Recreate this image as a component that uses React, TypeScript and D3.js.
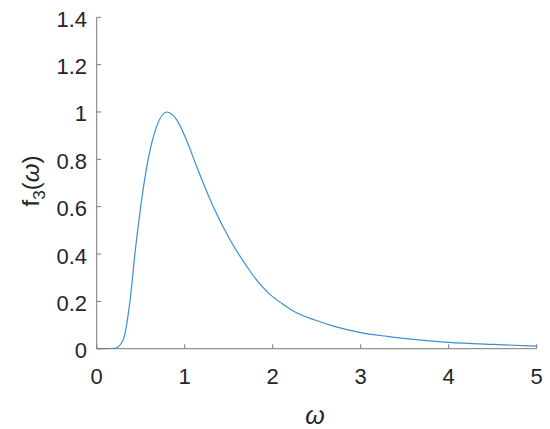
import React from 'react';
import * as d3 from 'd3';

// values
const omega = [0, 0.1, 0.21, 0.3, 0.38, 0.435, 0.49, 0.55, 0.625, 0.68, 0.795, 0.91, 1.02, 1.136, 1.325, 1.515, 1.72, 1.8, 1.95, 2.1, 2.25, 2.48, 2.71, 3.0, 3.3, 3.6, 4.0, 4.5, 5.0];
const f3 = [0, 0, 0.002, 0.037, 0.206, 0.403, 0.572, 0.727, 0.868, 0.938, 1.0, 0.967, 0.882, 0.77, 0.6, 0.46, 0.34, 0.298, 0.236, 0.192, 0.156, 0.121, 0.093, 0.068, 0.052, 0.039, 0.027, 0.018, 0.011];
const xTicks = [0, 1, 2, 3, 4, 5];
const yTicks = [0, 0.2, 0.4, 0.6, 0.8, 1, 1.2, 1.4];

const W = 550;
const H = 429;
const textColor = '#262626';
const axisColor = '#7a7a7a';
const font = '"Liberation Sans", Arial, Helvetica, sans-serif';

const App = () => {
  const x = d3.scaleLinear().domain([0, 5]).range([96.7, 536.7]);
  const y = d3.scaleLinear().domain([0, 1.4]).range([348.7, 17.3]);

  const pts = omega.map((w, i) => [w, f3[i]] as [number, number]);
  const line = d3
    .line<[number, number]>()
    .x(d => x(d[0]))
    .y(d => y(d[1]))
    .curve(d3.curveMonotoneX);

  const x0 = x(0);
  const y0 = y(0);

  return (
    <svg width={W} height={H} style={{ position: 'absolute', left: 0, top: 0, background: '#fff' }}>
      <rect width={W} height={H} fill="#fff" />
      <path d={line(pts) || ''} fill="none" stroke="#3a8fd4" strokeWidth={1.2} />

      {/* axes */}
      <line x1={x0} x2={x(5)} y1={y0} y2={y0} stroke={axisColor} strokeWidth={1} />
      <line x1={x0} x2={x0} y1={y0} y2={y(1.4)} stroke={axisColor} strokeWidth={1} />

      {xTicks.map(t => (
        <g key={'x' + t}>
          <line x1={x(t)} x2={x(t)} y1={y0} y2={y0 - 4.5} stroke={axisColor} strokeWidth={1} />
          <text x={x(t)} y={383.5} textAnchor="middle" fontFamily={font} fontSize={22} fill={textColor}>
            {t}
          </text>
        </g>
      ))}
      {yTicks.map(t => (
        <g key={'y' + t}>
          <line x1={x0} x2={x0 + 4.5} y1={y(t)} y2={y(t)} stroke={axisColor} strokeWidth={1} />
          <text x={87} y={y(t) + 9.5} textAnchor="end" fontFamily={font} fontSize={22} fill={textColor}>
            {d3.format('')(Math.round(t * 10) / 10)}
          </text>
        </g>
      ))}

      {/* axis labels */}
      <text x={315} y={424} textAnchor="middle" fontFamily={font} fontSize={25} fontStyle="italic" fill={textColor}>
        ω
      </text>
      <text
        transform={`translate(39, 181) rotate(-90)`}
        textAnchor="middle"
        fontFamily={font}
        fontSize={24}
        fill={textColor}
      >
        f<tspan fontSize={17} dy={6}>3</tspan>
        <tspan dy={-6}>(</tspan>
        <tspan fontStyle="italic">ω</tspan>)
      </text>
    </svg>
  );
};

export default App;
